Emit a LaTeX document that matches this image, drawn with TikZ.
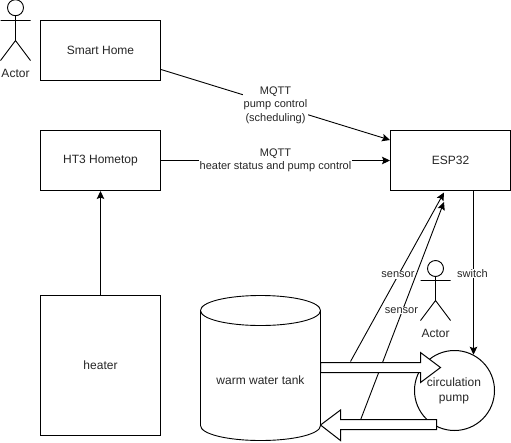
\documentclass[tikz,border=0pt]{standalone}
\usepackage{fontspec}
\setmainfont{Liberation Sans}
\usetikzlibrary{arrows.meta}
\tikzset{
  px/.style={x=1pt,y=-1pt},
  boxed/.style={draw=black,fill=white,line width=1pt,minimum width=120pt,inner sep=0pt,font=\fontsize{12}{14}\selectfont,text=black!85},
  edgetext/.style={fill=white,inner sep=0.5pt,align=center,font=\fontsize{11}{13.5}\selectfont,text=black!85},
  plaintext/.style={inner sep=0pt,align=center,font=\fontsize{12}{15}\selectfont,text=black!85},
  link/.style={draw=black,line width=0.9pt,-{Stealth[length=8pt,width=7.5pt,inset=1.5pt]}},
  figure/.style={draw=black,line width=0.9pt},
  blockarrow/.style={draw=black,fill=white,line width=1pt,line join=miter}
}
\begin{document}
\begin{tikzpicture}[px]
\useasboundingbox (0,0) rectangle (511,442);
\fill[white] (0,0) rectangle (511,442);
% boxes
\node[boxed,minimum height=60pt] (smart) at (100.5,50.5) {Smart Home};
\node[boxed,minimum height=60pt] (hometop) at (100.5,160.5) {HT3 Hometop};
\node[boxed,minimum height=60pt] (esp) at (450.5,160.5) {ESP32};
\node[boxed,minimum height=140pt] (heater) at (100.5,365.5) {heater};
% tank
\draw[figure,fill=white] (200.5,310.5) .. controls (200.5,302) and (227,295.5) .. (260.5,295.5)
  .. controls (294,295.5) and (320.5,302) .. (320.5,310.5) -- (320.5,425.5)
  .. controls (320.5,434) and (294,440.5) .. (260.5,440.5)
  .. controls (227,440.5) and (200.5,434) .. (200.5,425.5) -- cycle;
\draw[figure] (200.5,310.5) .. controls (200.5,319) and (227,325.5) .. (260.5,325.5)
  .. controls (294,325.5) and (320.5,319) .. (320.5,310.5);
\node[plaintext] (tank) at (260.5,380.5) {warm water tank};
% pump
\node[draw=black,fill=white,line width=1pt,circle,minimum size=80pt,inner sep=0pt] (pump) at (454.5,390.5) {};
% connectors
\coordinate (s1start) at (350.5,361.5);
\coordinate (s2start) at (360.5,420);
\coordinate (s1end) at (444,192.5);
\coordinate (s2end) at (444,202);
\coordinate (swstart) at (pump.62.5 |- esp.south);
\coordinate (hmqtt) at ([yshift=-19pt]smart.east);
\coordinate (espin) at ([yshift=20.5pt]esp.west);
\draw[link] (hometop.east) -- (esp.west);
\node[edgetext] (lbla) at (275.5,160.5) {MQTT\\heater status and pump control};
\draw[link] (hmqtt) -- (espin);
\node[edgetext] (lblb) at (275.5,105) {MQTT\\pump control\\(scheduling)};
\draw[link] (heater.north) -- (hometop.south);
\draw[link] (swstart) -- (pump.62.5);
\node[edgetext] (lblc) at (472.5,273.5) {switch};
\draw[link] (s1start) -- (s1end);
\node[edgetext] (lbld) at (398,275) {sensor};
\draw[link] (s2start) -- (s2end);
\node[edgetext] (lble) at (401.5,310.5) {sensor};
% block arrows
\draw[blockarrow] (320.5,362.5) -- (420.5,362.5) -- (420.5,352.5) -- (440.5,367.5) -- (420.5,382.5) -- (420.5,372.5) -- (320.5,372.5) -- cycle;
\draw[blockarrow] (436.5,419.5) -- (340.5,419.5) -- (340.5,410) -- (320.5,425) -- (340.5,440.5) -- (340.5,429.5) -- (436.5,429.5) -- cycle;
\node[plaintext] (pumptext) at (454,390.5) {circulation\\pump};
% actors
\draw[figure] (15.5,7.7) circle (8);
\draw[figure] (15.5,15.7) -- (15.5,40.5) (0.5,20.5) -- (30.5,20.5) (0.5,60.5) -- (15.5,40.5) -- (30.5,60.5);
\node[plaintext] (actora) at (15.5,73.5) {Actor};
\draw[figure] (435.5,268.5) circle (8);
\draw[figure] (435.5,276.5) -- (435.5,300.5) (420.5,280.5) -- (450.5,280.5) (420.5,320.5) -- (435.5,300.5) -- (450.5,320.5);
\node[plaintext] (actorb) at (435.5,333.5) {Actor};
\end{tikzpicture}
\end{document}
